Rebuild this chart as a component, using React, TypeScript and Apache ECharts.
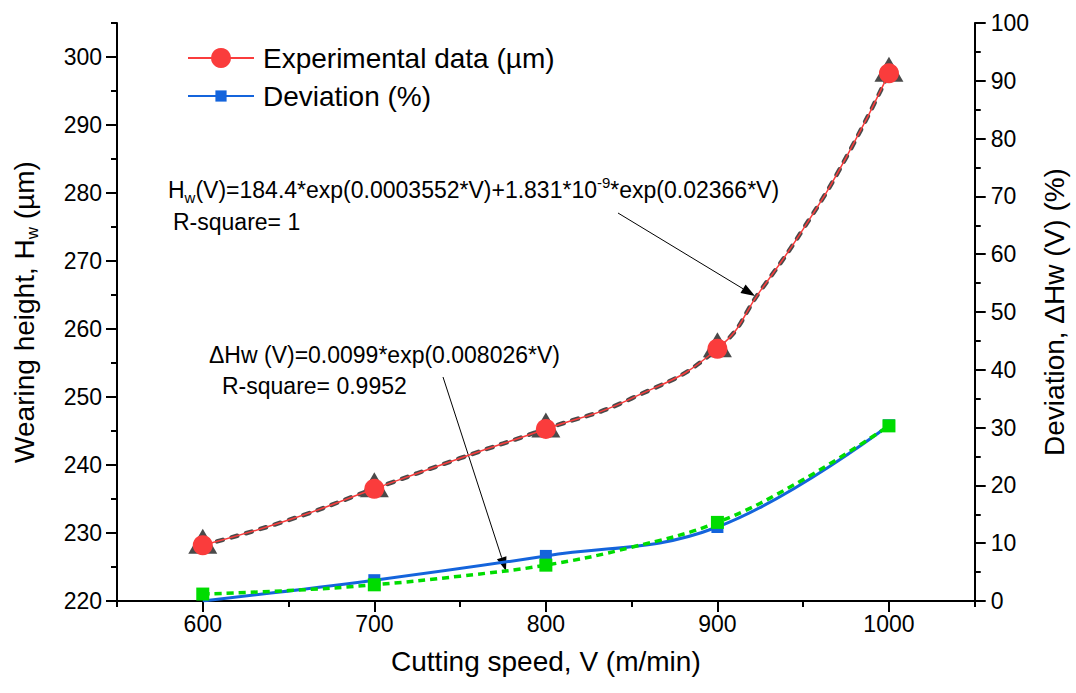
import React, { useEffect, useRef } from "react";
import * as echarts from "echarts";

// ---- data ----
const speeds = [600, 700, 800, 900, 1000];
const heightExp = [228.2, 236.5, 245.3, 257.1, 297.6];
const heightFitMarks = [228.2, 236.5, 245.3, 257.1, 297.6];
const curveSpeeds = [600, 650, 700, 750, 800, 850, 900, 925, 950, 975, 1000];
const heightCurve = [228.2, 231.9, 236.5, 241.0, 245.3, 249.8, 257.1, 265.6, 274.7, 285.2, 297.6];
const deviation = [0, 3.6, 7.8, 12.8, 30.4];
const devCurveSpeeds = [600, 650, 700, 750, 800, 850, 900, 950, 1000];
const devFitCurve = [1.2, 1.8, 2.8, 4.3, 6.2, 9.3, 13.6, 21.0, 30.3];
const devFitMarks = [1.2, 2.8, 6.2, 13.6, 30.3];
const xTickValues = [600, 700, 800, 900, 1000];
const leftTickValues = [220, 230, 240, 250, 260, 270, 280, 290, 300];

const FONT = "Liberation Sans, Arial, sans-serif";
const RED = "#fa3c3c";
const GRAY = "#4a4a4a";
const BLUE = "#1464dc";
const GREEN = "#00dc00";

export default function App() {
  const ref = useRef<HTMLDivElement>(null);
  useEffect(() => {
    document.body.style.margin = "0";
    const chart = echarts.init(ref.current!, null, { renderer: "svg" });

    const redData = curveSpeeds.map((s, i) => {
      const k = speeds.indexOf(s);
      return k >= 0
        ? { value: [s, heightExp[k]], symbol: "circle" }
        : { value: [s, heightCurve[i]], symbol: "none" };
    });
    const grayData = curveSpeeds.map((s, i) => {
      const k = speeds.indexOf(s);
      return k >= 0
        ? { value: [s, heightFitMarks[k]], symbol: "triangle" }
        : { value: [s, heightCurve[i]], symbol: "none" };
    });
    const greenData = devCurveSpeeds.map((s, i) => {
      const k = speeds.indexOf(s);
      return k >= 0
        ? { value: [s, devFitMarks[k]], symbol: "rect" }
        : { value: [s, devFitCurve[i]], symbol: "none" };
    });
    const blueData = speeds.map((s, i) => ({
      value: [s, deviation[i]],
      symbol: deviation[i] === 0 ? "none" : "rect",
    }));

    const axisLine = { show: true, lineStyle: { color: "#000", width: 2 } };
    const tickStyle = { color: "#000", width: 2 };
    const labelStyle = {
      color: "#000",
      fontSize: 23,
      fontFamily: FONT,
      formatter: (v: number) => String(v),
    };

    const arrow = (x1: number, y1: number, x2: number, y2: number) => {
      const dx = x2 - x1, dy = y2 - y1;
      const len = Math.sqrt(dx * dx + dy * dy);
      const ux = dx / len, uy = dy / len;
      const hl = 14, hw = 5;
      const bx = x2 - ux * hl, by = y2 - uy * hl;
      return [
        { type: "line", shape: { x1, y1, x2: bx, y2: by }, style: { stroke: "#000", lineWidth: 1 } },
        {
          type: "polygon",
          shape: { points: [[x2, y2], [bx - uy * hw, by + ux * hw], [bx + uy * hw, by - ux * hw]] },
          style: { fill: "#000" },
        },
      ];
    };

    const richAnno = {
      sub: { fontSize: 15, fontFamily: FONT, fill: "#000", verticalAlign: "bottom", lineHeight: 30 },
      sup: { fontSize: 15, fontFamily: FONT, fill: "#000", verticalAlign: "top", lineHeight: 30 },
      n: { fontSize: 23, fontFamily: FONT, fill: "#000", lineHeight: 30 },
    };

    chart.setOption({
      animation: false,
      backgroundColor: "#fff",
      grid: { left: 117, right: 98, top: 23, bottom: 92, containLabel: false },
      legend: [
        {
          data: ["Experimental data (µm)"],
          left: 187,
          top: 44,
          padding: 0,
          itemWidth: 66,
          itemHeight: 25,
          selectedMode: false,
          textStyle: { fontSize: 28, fontFamily: FONT, color: "#000", padding: [0, 0, 0, 4] },
        },
        {
          data: ["Deviation (%)"],
          left: 187,
          top: 82,
          padding: 0,
          itemWidth: 66,
          itemHeight: 14,
          selectedMode: false,
          textStyle: { fontSize: 28, fontFamily: FONT, color: "#000", padding: [0, 0, 0, 4] },
        },
      ],
      xAxis: [
        {
          type: "value",
          min: 550,
          max: 1050,
          interval: 50,
          axisLine,
          axisTick: { show: true, customValues: xTickValues, length: 11, lineStyle: tickStyle },
          axisLabel: { customValues: xTickValues, margin: 11, ...labelStyle },
          splitLine: { show: false },
          name: "Cutting speed, V (m/min)",
          nameLocation: "middle",
          nameGap: 46,
          nameTextStyle: { fontSize: 28, fontFamily: FONT, color: "#000" },
        },
        {
          type: "value",
          min: 550,
          max: 1050,
          interval: 50,
          position: "bottom",
          axisLine: { show: false },
          axisTick: { show: true, length: 6, lineStyle: tickStyle },
          axisLabel: { show: false },
          splitLine: { show: false },
        },
      ],
      yAxis: [
        {
          type: "value",
          min: 220,
          max: 305,
          interval: 10,
          position: "left",
          axisLine,
          axisTick: { show: true, customValues: leftTickValues, length: 11, lineStyle: tickStyle },
          axisLabel: { customValues: leftTickValues, margin: 15, ...labelStyle },
          splitLine: { show: false },
          name: "Wearing height, H{sub|w} (µm)",
          nameLocation: "middle",
          nameGap: 76,
          nameTextStyle: {
            fontSize: 28,
            fontFamily: FONT,
            color: "#000",
            rich: { sub: { fontSize: 17, fontFamily: FONT, color: "#000", verticalAlign: "bottom", lineHeight: 34 } },
          },
        },
        {
          type: "value",
          min: 0,
          max: 100,
          interval: 10,
          position: "right",
          axisLine,
          axisTick: { show: true, length: 11, lineStyle: tickStyle },
          minorTick: { show: true, splitNumber: 2, length: 6, lineStyle: tickStyle },
          axisLabel: { margin: 16, ...labelStyle },
          splitLine: { show: false },
          name: "Deviation, ΔHw (V) (%)",
          nameLocation: "middle",
          nameGap: 62,
          nameTextStyle: { fontSize: 28, fontFamily: FONT, color: "#000" },
        },
        {
          type: "value",
          min: 220,
          max: 305,
          interval: 5,
          position: "left",
          axisLine: { show: false },
          axisTick: { show: true, length: 6, lineStyle: tickStyle },
          axisLabel: { show: false },
          splitLine: { show: false },
        },
      ],
      series: [
        {
          name: "Fit Hw",
          type: "line",
          xAxisIndex: 0,
          yAxisIndex: 0,
          smooth: 0.5,
          data: grayData,
          symbolSize: [29, 25],
          symbolOffset: [0, -4],
          itemStyle: { color: GRAY },
          lineStyle: { color: GRAY, width: 4.5, type: [6, 9], cap: "round" },
          z: 2,
        },
        {
          name: "Experimental data (µm)",
          type: "line",
          xAxisIndex: 0,
          yAxisIndex: 0,
          smooth: 0.5,
          symbol: "circle",
          symbolSize: 20,
          data: redData,
          itemStyle: { color: RED },
          lineStyle: { color: RED, width: 1.5 },
          z: 3,
        },
        {
          name: "Deviation (%)",
          type: "line",
          xAxisIndex: 0,
          yAxisIndex: 1,
          smooth: 0.4,
          symbol: "rect",
          symbolSize: 12,
          data: blueData,
          itemStyle: { color: BLUE },
          lineStyle: { color: BLUE, width: 3 },
          z: 2,
        },
        {
          name: "Fit deviation",
          type: "line",
          xAxisIndex: 0,
          yAxisIndex: 1,
          smooth: 0.4,
          symbolSize: 13,
          data: greenData,
          itemStyle: { color: GREEN },
          lineStyle: { color: GREEN, width: 3.5, type: [7, 5] },
          z: 3,
        },
      ],
      graphic: [
        {
          type: "text",
          x: 168,
          y: 190,
          z: 10,
          style: {
            text: "{n|H}{sub|w}{n|(V)=184.4*exp(0.0003552*V)+1.831*10}{sup|-9}{n|*exp(0.02366*V)}",
            rich: richAnno,
            verticalAlign: "middle",
            align: "left",
          },
        },
        {
          type: "text",
          x: 173,
          y: 222,
          z: 10,
          style: { text: "R-square= 1", fontSize: 23, fontFamily: FONT, fill: "#000", verticalAlign: "middle" },
        },
        {
          type: "text",
          x: 209,
          y: 355,
          z: 10,
          style: { text: "ΔHw (V)=0.0099*exp(0.008026*V)", fontSize: 23, fontFamily: FONT, fill: "#000", verticalAlign: "middle" },
        },
        {
          type: "text",
          x: 222,
          y: 386,
          z: 10,
          style: { text: "R-square= 0.9952", fontSize: 23, fontFamily: FONT, fill: "#000", verticalAlign: "middle" },
        },
        ...arrow(618, 213, 755, 296),
        ...arrow(443, 377, 506, 571),
      ],
    });
    return () => chart.dispose();
  }, []);
  return (
    <div
      ref={ref}
      style={{ position: "absolute", left: 0, top: 0, width: 1076, height: 693, background: "#fff" }}
    />
  );
}
